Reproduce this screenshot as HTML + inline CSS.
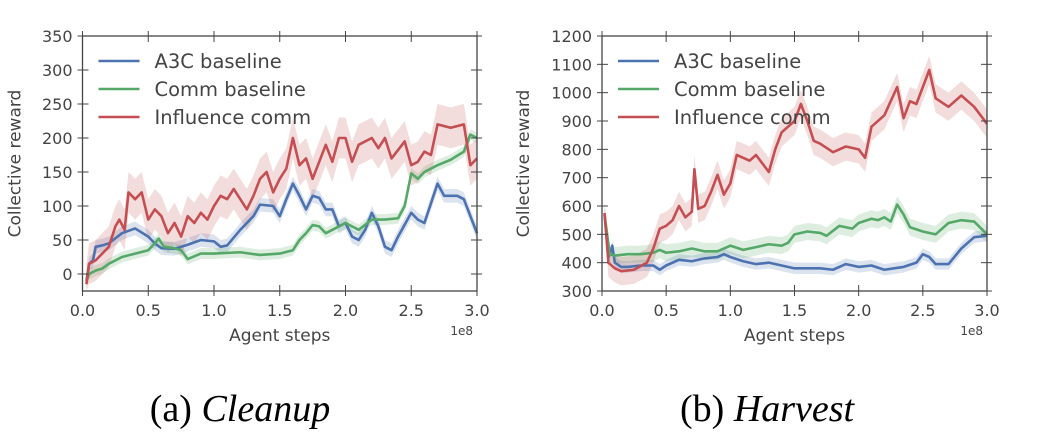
<!DOCTYPE html>
<html><head><meta charset="utf-8"><style>
body{margin:0;background:#fff;width:1057px;height:436px;overflow:hidden}
svg text{font-family:"DejaVu Sans","Liberation Sans",sans-serif;fill:#444}
</style></head><body>
<svg id="s" width="1057" height="436">
<text x="240" y="421" text-anchor="middle" style="font-family:'Liberation Serif',serif;font-size:38px;fill:#000">(a) <tspan font-style="italic">Cleanup</tspan></text>
<text x="767" y="421" text-anchor="middle" style="font-family:'Liberation Serif',serif;font-size:38px;fill:#000">(b) <tspan font-style="italic">Harvest</tspan></text>
</svg>
<script>
const seriesNames=["A3C baseline","Comm baseline","Influence comm"];
const colors=["#4c72b0","#55a868","#c44e52"];
const xTicks=[0,0.5,1.0,1.5,2.0,2.5,3.0];
const xTickLabels=["0.0","0.5","1.0","1.5","2.0","2.5","3.0"];
// Cleanup
const cX_a3c=[0.03,0.05,0.08,0.1,0.15,0.2,0.3,0.4,0.5,0.55,0.6,0.7,0.8,0.9,1.0,1.05,1.1,1.2,1.3,1.35,1.45,1.5,1.55,1.6,1.65,1.7,1.75,1.8,1.85,1.9,1.95,2.0,2.05,2.1,2.15,2.2,2.25,2.3,2.35,2.4,2.5,2.55,2.6,2.7,2.75,2.85,2.9,3.0];
const cY_a3c=[-10,15,20,40,42,45,60,67,55,45,38,37,43,50,48,40,42,65,85,102,100,85,110,133,115,95,115,112,95,95,70,75,55,50,65,90,70,40,35,55,90,80,75,133,115,115,110,60];
const cX_comm=[0.03,0.05,0.1,0.15,0.2,0.3,0.4,0.5,0.55,0.58,0.62,0.7,0.75,0.8,0.9,1.0,1.2,1.35,1.5,1.6,1.65,1.7,1.75,1.8,1.85,1.9,2.0,2.05,2.1,2.2,2.3,2.4,2.45,2.5,2.55,2.6,2.7,2.8,2.9,2.95,3.0];
const cY_comm=[-10,0,5,8,15,25,30,35,45,52,40,38,35,22,30,30,32,28,30,35,50,60,72,70,60,65,75,70,65,80,80,82,100,148,140,150,160,168,180,205,200];
const cX_inf=[0.03,0.05,0.1,0.15,0.2,0.25,0.28,0.32,0.35,0.4,0.45,0.5,0.55,0.6,0.65,0.7,0.75,0.8,0.85,0.9,0.95,1.0,1.05,1.1,1.15,1.2,1.25,1.3,1.35,1.4,1.45,1.5,1.55,1.6,1.65,1.7,1.75,1.8,1.85,1.9,1.95,2.0,2.05,2.1,2.2,2.25,2.3,2.35,2.45,2.5,2.55,2.6,2.65,2.7,2.8,2.9,2.95,3.0];
const cY_inf=[-15,15,20,30,40,70,80,65,120,110,120,80,95,85,60,75,55,85,75,90,80,100,115,110,125,110,95,115,140,150,120,140,155,200,160,170,140,165,190,165,200,200,165,190,200,185,200,170,195,160,165,180,175,220,215,220,160,170];
const cBand=[10,8,30];
const cYTicks=[0,50,100,150,200,250,300,350];
// Harvest
const hX_a3c=[0.02,0.05,0.07,0.08,0.1,0.15,0.2,0.3,0.4,0.45,0.5,0.6,0.7,0.8,0.9,0.95,1.0,1.1,1.2,1.3,1.5,1.7,1.8,1.9,2.0,2.1,2.2,2.35,2.45,2.5,2.55,2.6,2.7,2.8,2.9,3.0];
const hY_a3c=[570,420,440,460,400,385,385,390,390,375,390,410,405,415,420,430,420,405,395,400,380,380,375,395,385,390,375,385,400,430,420,395,395,450,490,495];
const hX_comm=[0.02,0.06,0.1,0.2,0.3,0.4,0.45,0.5,0.6,0.7,0.8,0.9,1.0,1.1,1.2,1.3,1.4,1.45,1.5,1.6,1.7,1.75,1.85,1.95,2.0,2.1,2.15,2.2,2.25,2.3,2.35,2.4,2.5,2.6,2.7,2.8,2.9,3.0];
const hY_comm=[570,430,425,430,430,435,445,435,440,450,440,440,460,445,455,465,460,470,500,510,505,495,530,520,540,555,550,560,545,605,570,525,510,500,540,550,545,500];
const hX_inf=[0.02,0.05,0.1,0.15,0.25,0.35,0.4,0.45,0.5,0.55,0.6,0.65,0.7,0.72,0.75,0.8,0.85,0.9,0.95,1.0,1.05,1.1,1.15,1.2,1.3,1.35,1.4,1.5,1.55,1.6,1.65,1.7,1.8,1.9,2.0,2.05,2.1,2.2,2.3,2.35,2.4,2.45,2.55,2.6,2.7,2.8,2.9,3.0];
const hY_inf=[575,400,380,370,375,400,450,520,530,550,600,560,580,730,590,600,650,710,640,680,780,770,760,780,720,800,860,900,960,900,830,820,790,810,800,770,880,920,1020,910,970,960,1080,980,950,990,950,890];
const hBand=[20,30,50];
const hYTicks=[300,400,500,600,700,800,900,1000,1100,1200];

const NS="http://www.w3.org/2000/svg";
const svg=document.getElementById('s');
function mk(t,a,p){const e=document.createElementNS(NS,t);for(const k in a)e.setAttribute(k,a[k]);(p||svg).appendChild(e);return e;}

function chart(id,L,R,T,B,ymin,ymax,yTicks,xs,ys,band){
  const g=mk('g',{});
  
  
  const sx=v=>L+(v-0)/(3-0)*(R-L);
  const sy=v=>B-(v-ymin)/(ymax-ymin)*(B-T);
  for(let i=0;i<3;i++){
    const X=xs[i],Y=ys[i],w=band[i];
    let up=X.map((x,j)=>sx(x)+','+sy(Math.min(ymax,Y[j]+w))),dn=X.map((x,j)=>sx(x)+','+sy(Math.max(ymin,Y[j]-w))).reverse();
    const b=mk('polygon',{points:up.concat(dn).join(' '),fill:colors[i],'fill-opacity':0.2,stroke:'none'},g);
    
    
  }
  for(let i=0;i<3;i++){
    const l=mk('polyline',{points:xs[i].map((x,j)=>sx(x)+','+sy(ys[i][j])).join(' '),fill:'none',stroke:colors[i],'stroke-width':2.6,'stroke-linejoin':'round'},g);
    
    
  }
  const fr=mk('rect',{x:L,y:T,width:R-L,height:B-T,fill:'none',stroke:'#444','stroke-width':1.3},g);
  
  
  xTicks.forEach((v,k)=>{
    const x=sx(v);
    mk('line',{x1:x,x2:x,y1:B+5,y2:B-6,stroke:'#444'},g);mk('line',{x1:x,x2:x,y1:T-5,y2:T+6,stroke:'#444'},g);
    const t=mk('text',{x:x,y:B+25,'text-anchor':'middle','font-size':16},g);t.textContent=xTickLabels[k];
    
    
  });
  yTicks.forEach(v=>{
    const y=sy(v);
    mk('line',{x1:L-5,x2:L+6,y1:y,y2:y,stroke:'#444'},g);mk('line',{x1:R-6,x2:R+5,y1:y,y2:y,stroke:'#444'},g);
    const t=mk('text',{x:L-10,y:y+6,'text-anchor':'end','font-size':16},g);t.textContent=v;
    
    
  });
  const xl=mk('text',{x:(L+R)/2,y:B+50,'text-anchor':'middle','font-size':17},g);xl.textContent='Agent steps';
  
  
  const ex=mk('text',{x:R-4,y:B+44,'text-anchor':'end','font-size':12},g);ex.textContent='1e8';
  
  
  const cx=L-(id==='cleanup'?62:73),cy=(T+B)/2;
  const yl=mk('text',{x:cx,y:cy,'text-anchor':'middle','font-size':17,transform:`rotate(-90 ${cx} ${cy})`},g);yl.textContent='Collective reward';
  
  
  for(let i=0;i<3;i++){
    const y=T+25+i*28;
    const lg=mk('g',{},g);
    
    
    mk('line',{x1:L+16,x2:L+57,y1:y,y2:y,stroke:colors[i],'stroke-width':2.6},lg);
    const t=mk('text',{x:L+72,y:y+7,'font-size':19.5},lg);t.textContent=seriesNames[i];
  }
}
chart('cleanup',82.5,477,36,291,-25,350,cYTicks,[cX_a3c,cX_comm,cX_inf],[cY_a3c,cY_comm,cY_inf],cBand);
chart('harvest',602,987,36,291,300,1200,hYTicks,[hX_a3c,hX_comm,hX_inf],[hY_a3c,hY_comm,hY_inf],hBand);
</script>
</body></html>
